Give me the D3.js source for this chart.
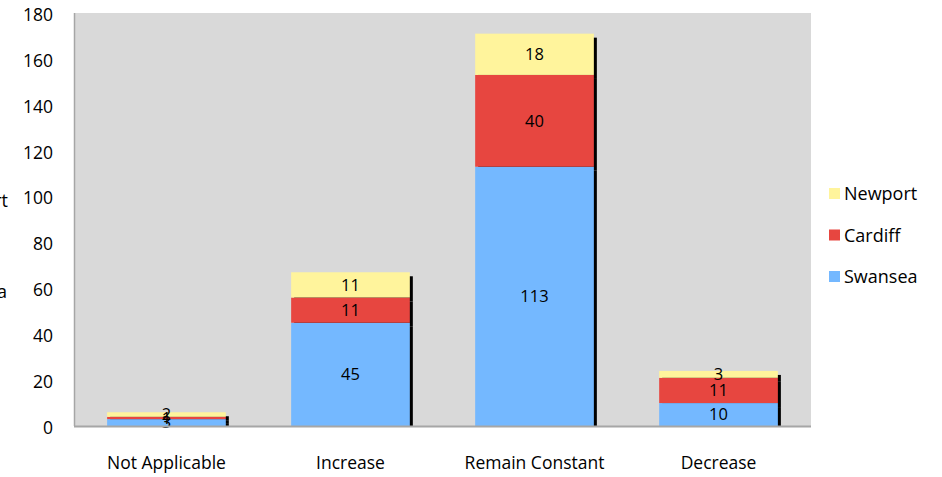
<!DOCTYPE html>
<html>
<head>
<meta charset="utf-8">
<script src="https://cdn.jsdelivr.net/npm/d3@7"></script>
<style>
  body { margin: 0; background: #fff; }
  text { font-family: "Open Sans", "Liberation Sans", sans-serif; }
</style>
</head>
<body>
<div id="chart"></div>
<script>
// values
const categories = ["Not Applicable", "Increase", "Remain Constant", "Decrease"];
const seriesNames = ["Swansea", "Cardiff", "Newport"];
const swansea = [3, 45, 113, 10];
const cardiff = [1, 11, 40, 11];
const newport = [2, 11, 18, 3];
const yTicks = [0, 20, 40, 60, 80, 100, 120, 140, 160, 180];

const colors = { Swansea: "#74b8ff", Cardiff: "#e74640", Newport: "#fff49c" };

const width = 942, height = 477;
const plot = { left: 74, right: 811, top: 13, bottom: 426 };

const svg = d3.select("#chart").append("svg")
    .attr("width", width)
    .attr("height", height);

const rows = categories.map((c, i) => ({
    cat: c, Swansea: swansea[i], Cardiff: cardiff[i], Newport: newport[i]
}));
const stacked = d3.stack().keys(seriesNames)(rows);

const x = d3.scaleBand().domain(categories)
    .range([plot.left, plot.right])
    .paddingInner(0.355).paddingOuter(0.18);
const y = d3.scaleLinear().domain([0, 180]).range([plot.bottom, plot.top]);

// plot background
svg.append("rect")
    .attr("x", plot.left).attr("y", plot.top)
    .attr("width", plot.right - plot.left).attr("height", plot.bottom - plot.top)
    .attr("fill", "#d9d9d9");
svg.append("line")
    .attr("x1", plot.left + 0.5).attr("x2", plot.left + 0.5)
    .attr("y1", plot.top).attr("y2", plot.bottom)
    .attr("stroke", "#a6a6a6").attr("stroke-width", 1.5);

// shadows, clipped at the baseline
svg.append("clipPath").attr("id", "clip")
    .append("rect").attr("x", 0).attr("y", 0).attr("width", width).attr("height", plot.bottom);
const shadowG = svg.append("g").attr("clip-path", "url(#clip)");
stacked.forEach(s => {
    shadowG.selectAll(null).data(s).join("rect")
        .attr("x", d => x(d.data.cat) + 3)
        .attr("y", d => y(d[1]) + 4)
        .attr("width", x.bandwidth())
        .attr("height", d => y(d[0]) - y(d[1]))
        .attr("fill", "#000");
});

// bars
stacked.forEach(s => {
    svg.append("g").selectAll("rect").data(s).join("rect")
        .attr("x", d => x(d.data.cat))
        .attr("y", d => y(d[1]))
        .attr("width", x.bandwidth())
        .attr("height", d => y(d[0]) - y(d[1]))
        .attr("fill", colors[s.key]);
});

// data labels
stacked.forEach(s => {
    svg.append("g").selectAll("text").data(s).join("text")
        .attr("x", d => x(d.data.cat) + x.bandwidth() / 2)
        .attr("y", d => (y(d[0]) + y(d[1])) / 2)
        .attr("dy", "0.36em")
        .attr("text-anchor", "middle")
        .attr("font-size", 16.5)
        .attr("fill", "#000")
        .text(d => d[1] - d[0]);
});

// baseline
svg.append("line")
    .attr("x1", plot.left).attr("x2", plot.right)
    .attr("y1", plot.bottom + 0.5).attr("y2", plot.bottom + 0.5)
    .attr("stroke", "#a6a6a6").attr("stroke-width", 2);

// y axis
const yAxis = svg.append("g")
    .attr("transform", `translate(${plot.left - 21},0)`)
    .call(d3.axisLeft(y).tickValues(yTicks).tickSize(0).tickPadding(0));
yAxis.select(".domain").remove();
yAxis.selectAll("text").attr("font-size", 17.5).attr("fill", "#000")
    .attr("font-family", "'Open Sans', sans-serif").attr("dy", "0.42em");

// x axis
const xAxis = svg.append("g")
    .attr("transform", `translate(0,${plot.bottom})`)
    .call(d3.axisBottom(x).tickSize(0).tickPadding(31));
xAxis.select(".domain").remove();
xAxis.selectAll("text").attr("font-size", 17.5).attr("fill", "#000")
    .attr("font-family", "'Open Sans', sans-serif");

// legend
const legendOrder = ["Newport", "Cardiff", "Swansea"];
const legend = svg.append("g").attr("transform", "translate(829,194)");
legendOrder.forEach((name, i) => {
    const g = legend.append("g").attr("transform", `translate(0,${i * 41.5})`);
    g.append("rect").attr("x", 0).attr("y", -6).attr("width", 11).attr("height", 11)
        .attr("fill", colors[name]);
    g.append("text").attr("x", 15).attr("y", 0).attr("dy", "0.35em")
        .attr("font-size", 18).text(name);
});

// clipped leftover legend at the far left edge
svg.append("text").attr("x", 8).attr("y", 201).attr("dy", "0.35em")
    .attr("text-anchor", "end").attr("font-size", 18).text("Newport");
svg.append("text").attr("x", 7).attr("y", 292).attr("dy", "0.35em")
    .attr("text-anchor", "end").attr("font-size", 18).text("Swansea");
</script>
</body>
</html>
